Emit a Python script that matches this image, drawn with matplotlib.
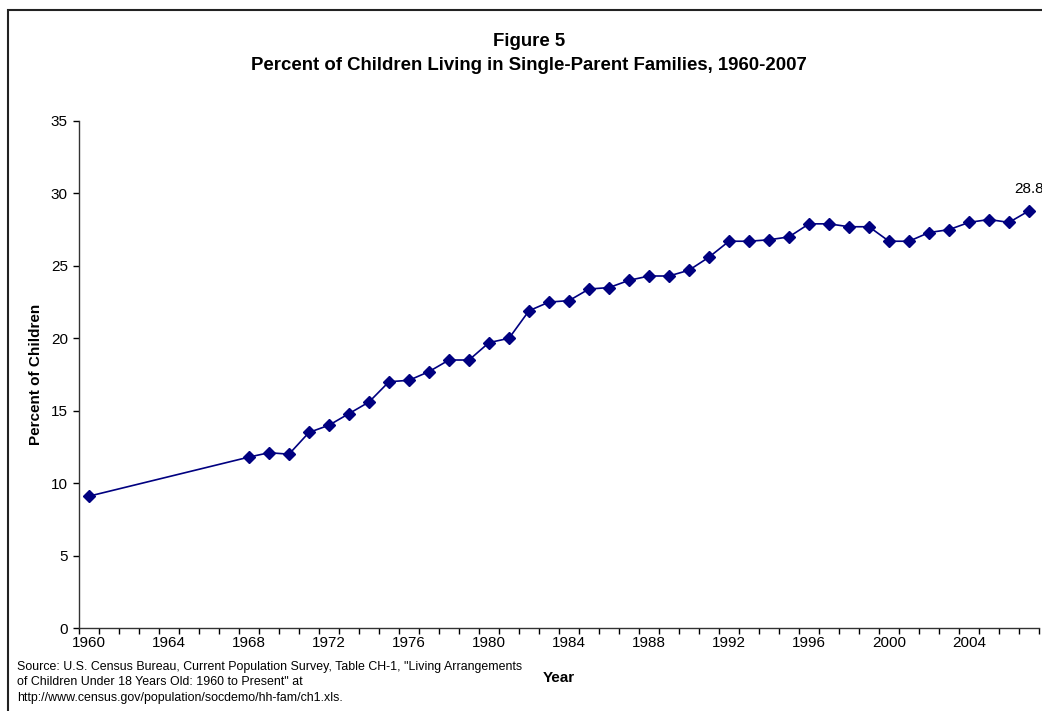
import matplotlib
matplotlib.use("Agg")
import matplotlib.pyplot as plt
from matplotlib.patches import Rectangle
from matplotlib.ticker import FixedLocator, MultipleLocator

# data
years = [1960, 1968, 1969, 1970, 1971, 1972, 1973, 1974, 1975, 1976,
         1977, 1978, 1979, 1980, 1981, 1982, 1983, 1984, 1985, 1986,
         1987, 1988, 1989, 1990, 1991, 1992, 1993, 1994, 1995, 1996,
         1997, 1998, 1999, 2000, 2001, 2002, 2003, 2004, 2005, 2006, 2007]
percent = [9.1, 11.8, 12.1, 12.0, 13.5, 14.0, 14.8, 15.6, 17.0, 17.1,
           17.7, 18.5, 18.5, 19.7, 20.0, 21.9, 22.5, 22.6, 23.4, 23.5,
           24.0, 24.3, 24.3, 24.7, 25.6, 26.7, 26.7, 26.8, 27.0, 27.9,
           27.9, 27.7, 27.7, 26.7, 26.7, 27.3, 27.5, 28.0, 28.2, 28.0, 28.8]
year_labels = list(range(1960, 2008, 4))

plt.rcParams['font.family'] = ['Liberation Sans', 'DejaVu Sans']

fig = plt.figure(figsize=(10.42, 7.11), dpi=100)

# outer chart border (runs off the right and bottom edges)
fig.patches.append(Rectangle((8 / 1042, -0.1), 1.2, (711 - 9.5) / 711 + 0.1,
                             transform=fig.transFigure, fill=False,
                             edgecolor='#222222', linewidth=1.5))

ax = fig.add_axes([79 / 1042, 83 / 711, 960 / 1042, 507 / 711])
ax.plot(years, percent, color='#000080', linewidth=1.2, marker='D',
        markersize=6.5, clip_on=False, zorder=3)

ax.set_xlim(1959.5, 2007.5)
ax.set_ylim(0, 35)
ax.yaxis.set_major_locator(MultipleLocator(5))
ax.xaxis.set_major_locator(FixedLocator(year_labels))
ax.xaxis.set_minor_locator(FixedLocator([1959.5 + k for k in range(49)]))
ax.tick_params(axis='x', which='major', length=0, labelsize=11, pad=6)
ax.tick_params(axis='x', which='minor', length=4, width=1, direction='out')
ax.tick_params(axis='y', length=4, width=1, labelsize=11, pad=4)

for side in ('top', 'right'):
    ax.spines[side].set_visible(False)
for side in ('left', 'bottom'):
    ax.spines[side].set_color('#333333')
    ax.spines[side].set_linewidth(1)

fig.text(36 / 1042, 1 - 374 / 711, 'Percent of Children', rotation=90,
         ha='center', va='center', fontsize=11, fontweight='bold')

# label the last point
ax.annotate(f'{percent[-1]:.1f}', (years[-1], percent[-1]), xytext=(0, 13),
            textcoords='offset points', ha='center', fontsize=11,
            annotation_clip=False)

fig.text(559 / 1042, 1 - 678 / 711, 'Year', ha='center', va='center',
         fontsize=11, fontweight='bold')
fig.text(0.5078, 1 - 42 / 711, 'Figure 5', ha='center', va='center',
         fontsize=13.4, fontweight='bold')
fig.text(0.5078, 1 - 66 / 711,
         'Percent of Children Living in Single-Parent Families, 1960-2007',
         ha='center', va='center', fontsize=13.4, fontweight='bold')

fig.text(17 / 1042, 1 - 661 / 711,
         'Source: U.S. Census Bureau, Current Population Survey, Table CH-1, '
         '"Living Arrangements\nof Children Under 18 Years Old: 1960 to Present" at\n'
         'http://www.census.gov/population/socdemo/hh-fam/ch1.xls.',
         ha='left', va='top', fontsize=8.9, linespacing=1.38)

fig.savefig('out.png', dpi=100)
